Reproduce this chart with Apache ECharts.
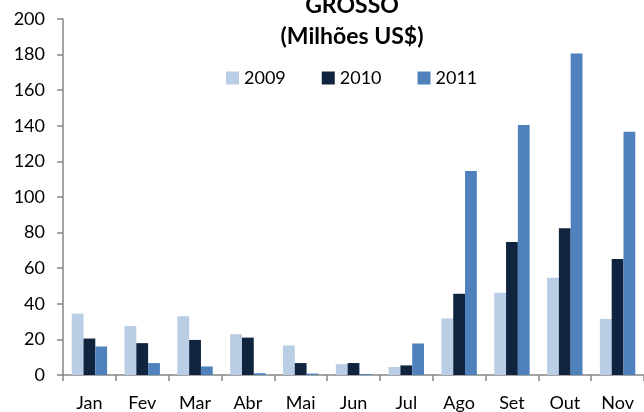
<!DOCTYPE html>
<html>
<head>
<meta charset="utf-8">
<script src="https://cdn.jsdelivr.net/npm/echarts@6/dist/echarts.min.js"></script>
<style>
  html, body { margin: 0; padding: 0; background: #fff; }
  #chart { width: 644px; height: 412px; }
</style>
</head>
<body>
<div id="chart"></div>
<script>
var months = ["Jan", "Fev", "Mar", "Abr", "Mai", "Jun", "Jul", "Ago", "Set", "Out", "Nov"];
var legendNames = ["2009", "2010", "2011"];
var values2009 = [34.5, 27.5, 33, 22.9, 16.6, 6.1, 4.5, 31.8, 46.2, 54.7, 31.5];
var values2010 = [20.5, 17.9, 19.7, 21, 6.7, 6.7, 5.4, 45.6, 74.7, 82.5, 65.2];
var values2011 = [16, 6.7, 4.8, 1, 0.8, 0.5, 17.7, 114.6, 140.4, 180.6, 136.7];

var chart = echarts.init(document.getElementById("chart"));
var axisColor = "#868686";
var font = "Lato";

var option = {
  animation: false,
  color: ["#B9CDE5", "#10243F", "#4F81BD"],
  title: {
    text: "GROSSO\n(Milhões US$)",
    left: 347,
    top: -15,
    textAlign: "center",
    textStyle: {
      fontFamily: font,
      fontWeight: "bold",
      fontSize: 23,
      lineHeight: 31,
      color: "#000"
    }
  },
  legend: {
    data: legendNames,
    left: 221,
    top: 64,
    itemWidth: 13,
    itemHeight: 13,
    itemGap: 36,
    icon: "rect",
    textStyle: { fontFamily: font, fontSize: 18, color: "#000" }
  },
  grid: {
    left: 63,
    right: -2,
    top: 19,
    bottom: 35
  },
  xAxis: {
    type: "category",
    data: months,
    axisLine: { lineStyle: { color: axisColor, width: 1.5 } },
    axisTick: { show: true, interval: 0, length: 6, lineStyle: { color: axisColor, width: 1.5 } },
    axisLabel: { margin: 19, fontFamily: font, fontSize: 18, color: "#000", interval: 0 }
  },
  yAxis: {
    type: "value",
    min: 0,
    max: 200,
    interval: 20,
    splitLine: { show: false },
    axisLine: { show: true, lineStyle: { color: axisColor, width: 1.5 } },
    axisTick: { show: true, length: 6, lineStyle: { color: axisColor, width: 1.5 } },
    axisLabel: { margin: 18, fontFamily: font, fontSize: 18, color: "#000" }
  },
  series: [
    { name: "2009", type: "bar", data: values2009, barGap: "0%", barCategoryGap: "33%" },
    { name: "2010", type: "bar", data: values2010, barGap: "0%", barCategoryGap: "33%" },
    { name: "2011", type: "bar", data: values2011, barGap: "0%", barCategoryGap: "33%" }
  ]
};

chart.setOption(option);
</script>
</body>
</html>
